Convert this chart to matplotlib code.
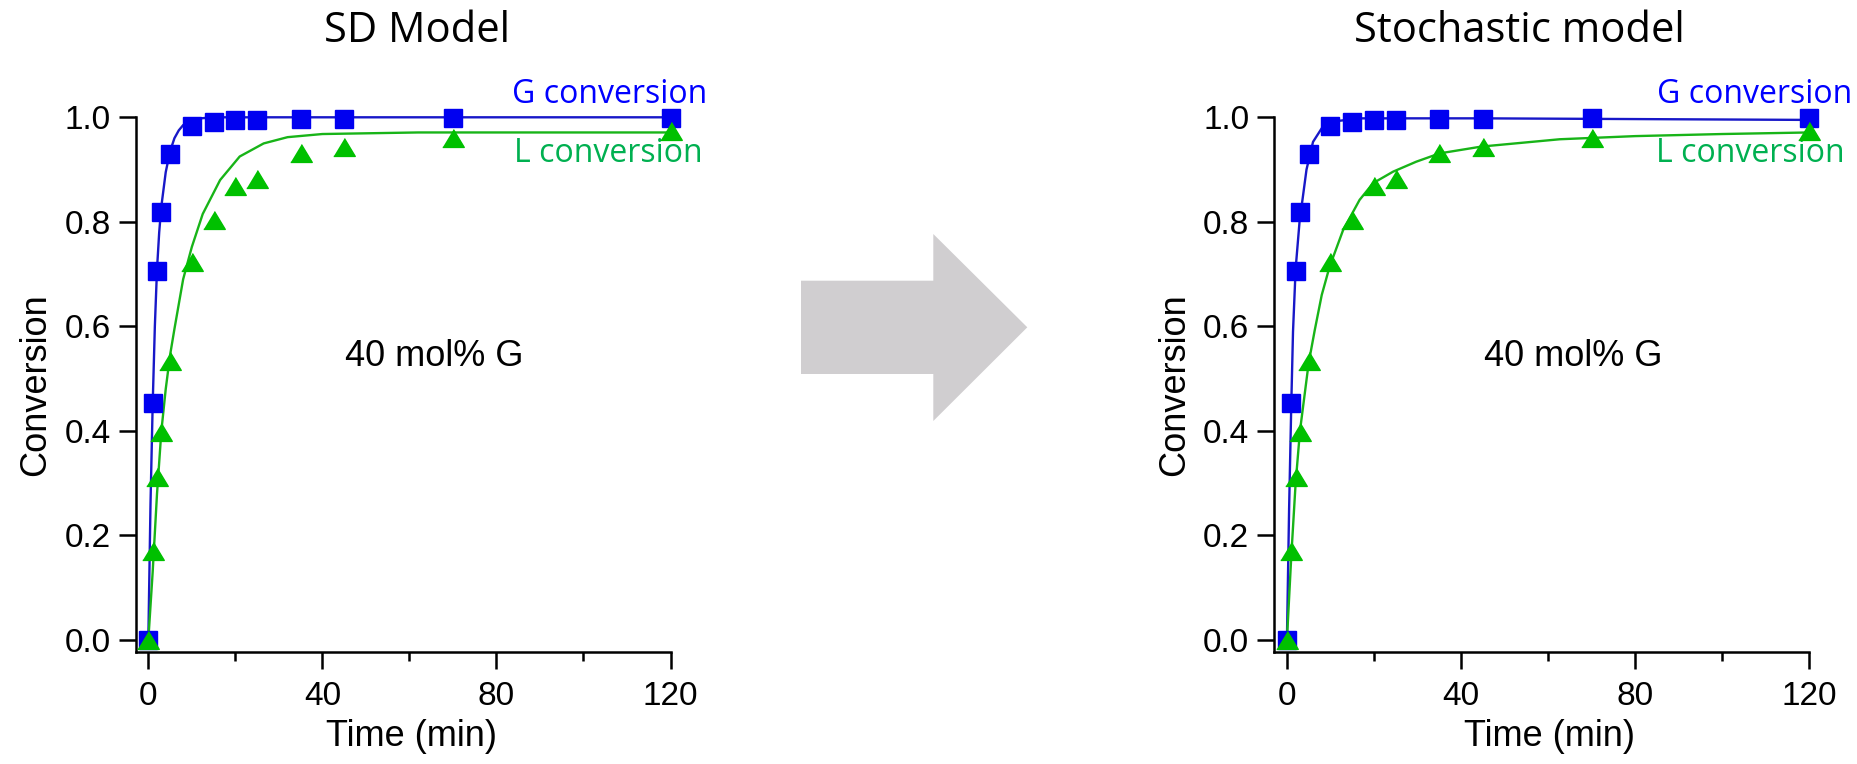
import matplotlib
matplotlib.use("Agg")
import matplotlib.pyplot as plt
from matplotlib.patches import Polygon
from matplotlib.ticker import MultipleLocator

# experimental points (same in both panels)
t_exp = [0, 1, 2, 3, 5, 10, 15, 20, 25, 35, 45, 70, 120]
g_exp = [0.0, 0.454, 0.705, 0.818, 0.929, 0.983, 0.991, 0.995, 0.995, 0.997, 0.997, 0.998, 0.998]
l_exp = [0.0, 0.170, 0.311, 0.398, 0.534, 0.723, 0.803, 0.869, 0.882, 0.932, 0.944, 0.961, 0.974]

# SD model curves
sd_g_t = [0, 0.5, 1, 1.5, 2, 2.5, 3, 4, 5, 6, 7, 8, 10, 12, 15, 20, 30, 120]
sd_g = [0.0, 0.26, 0.45, 0.60, 0.71, 0.78, 0.83, 0.895, 0.935, 0.96, 0.975, 0.985, 0.995, 0.998, 1.0, 1.0, 1.0, 1.0]
sd_l_t = [0, 1, 2, 3, 4, 5, 6, 8, 10, 12.5, 16.5, 21, 26.5, 32, 40, 62, 120]
sd_l = [0.0, 0.13, 0.28, 0.40, 0.48, 0.545, 0.595, 0.69, 0.752, 0.815, 0.88, 0.925, 0.95, 0.962, 0.968, 0.971, 0.971]

# stochastic model curves
st_g_t = [0, 0.5, 1, 1.4, 2, 2.9, 4.5, 6, 8, 10.6, 17, 45, 70, 120]
st_g = [0.0, 0.25, 0.45, 0.59, 0.71, 0.80, 0.90, 0.953, 0.979, 0.992, 0.998, 0.998, 0.997, 0.995]
st_l_t = [0, 1, 2, 3, 5, 6.4, 8, 9.8, 12.9, 16.7, 19.8, 24.4, 29.7, 35.1, 44.7, 62.7, 80, 100, 120]
st_l = [0.0, 0.16, 0.30, 0.40, 0.53, 0.593, 0.66, 0.714, 0.784, 0.842, 0.874, 0.896, 0.915, 0.931, 0.944, 0.958, 0.964, 0.968, 0.971]

titles = ["SD Model", "Stochastic model"]
x_ticks = [0, 40, 80, 120]
y_ticks = [0.0, 0.2, 0.4, 0.6, 0.8, 1.0]

BLUE_M = "#0000f0"
BLUE_L = "#1818c8"
GREEN_M = "#00c000"
GREEN_L = "#18b418"
BLUE_T = "#0000ff"
GREEN_T = "#00b050"
ARIAL = "Liberation Sans"
CALIBRI = "Open Sans"

W, H = 1857, 764
fig = plt.figure(figsize=(W / 100, H / 100), dpi=100)

tri = [(-1, -0.83), (1, -0.83), (0, 0.83)]


def panel(left_px, gt, g, lt, l, gx, lx):
    ax = fig.add_axes([left_px / W, 112.3 / H, 534.8 / W, 534.4 / H])
    ax.set_xlim(-2.9, 120)
    ax.set_ylim(-0.0224, 1.0)
    ax.spines[["top", "right"]].set_visible(False)
    for s in ["left", "bottom"]:
        ax.spines[s].set_linewidth(1.8)
    ax.tick_params(which="major", length=12, width=1.8, labelsize=24, pad=6)
    ax.tick_params(axis="x", which="minor", length=6.5, width=1.8)
    ax.tick_params(axis="x", pad=9)
    ax.set_xticks(x_ticks)
    ax.xaxis.set_minor_locator(MultipleLocator(20))
    ax.set_yticks(y_ticks)
    ax.set_yticklabels([f"{v:.1f}" for v in y_ticks])
    for lab in ax.get_xticklabels() + ax.get_yticklabels():
        lab.set_fontfamily(ARIAL)

    ax.plot(gt, g, color=BLUE_L, lw=1.7, clip_on=False, zorder=2)
    ax.plot(lt, l, color=GREEN_L, lw=1.7, clip_on=False, zorder=2)
    ax.plot(t_exp, g_exp, ls="none", marker="s", ms=13.5, color=BLUE_M,
            mec=BLUE_M, clip_on=False, zorder=3)
    ax.plot(t_exp, l_exp, ls="none", marker=tri, ms=15.5, color=GREEN_M,
            mec=GREEN_M, clip_on=False, zorder=4)

    ax.set_xlabel("Time (min)", fontsize=26, family=ARIAL, labelpad=5)
    ax.xaxis.set_label_coords(0.515, -0.125)
    ax.set_ylabel("Conversion", fontsize=26, family=ARIAL, labelpad=8)

    ax.text(gx, 1.028, "G conversion", color=BLUE_T, fontsize=23, family=CALIBRI,
            ha="right", va="baseline", clip_on=False)
    ax.text(lx, 0.915, "L conversion", color=GREEN_T, fontsize=23, family=CALIBRI,
            ha="right", va="baseline", clip_on=False)
    ax.text(65.8, 0.525, "40 mol% G", fontsize=26, family=ARIAL, ha="center", va="baseline")
    return ax


panel(135.7, sd_g_t, sd_g, sd_l_t, sd_l, 128.4, 127.3)
panel(1274.3, st_g_t, st_g, st_l_t, st_l, 130.0, 128.2)

fig.text(417.5 / W, 1 - 41.7 / H, titles[0], fontsize=30, family=CALIBRI, ha="center", va="baseline")
fig.text(1519.5 / W, 1 - 41.7 / H, titles[1], fontsize=30, family=CALIBRI, ha="center", va="baseline")

# big grey arrow between the panels
arrow_px = [(801, 280.7), (933.3, 280.7), (933.3, 234), (1027.3, 327.3),
            (933.3, 421), (933.3, 374), (801, 374)]
fig.patches.append(Polygon([(x / W, 1 - y / H) for x, y in arrow_px], closed=True,
                           transform=fig.transFigure, facecolor="#d0ced0", edgecolor="none"))

fig.savefig("out.png", dpi=100)
